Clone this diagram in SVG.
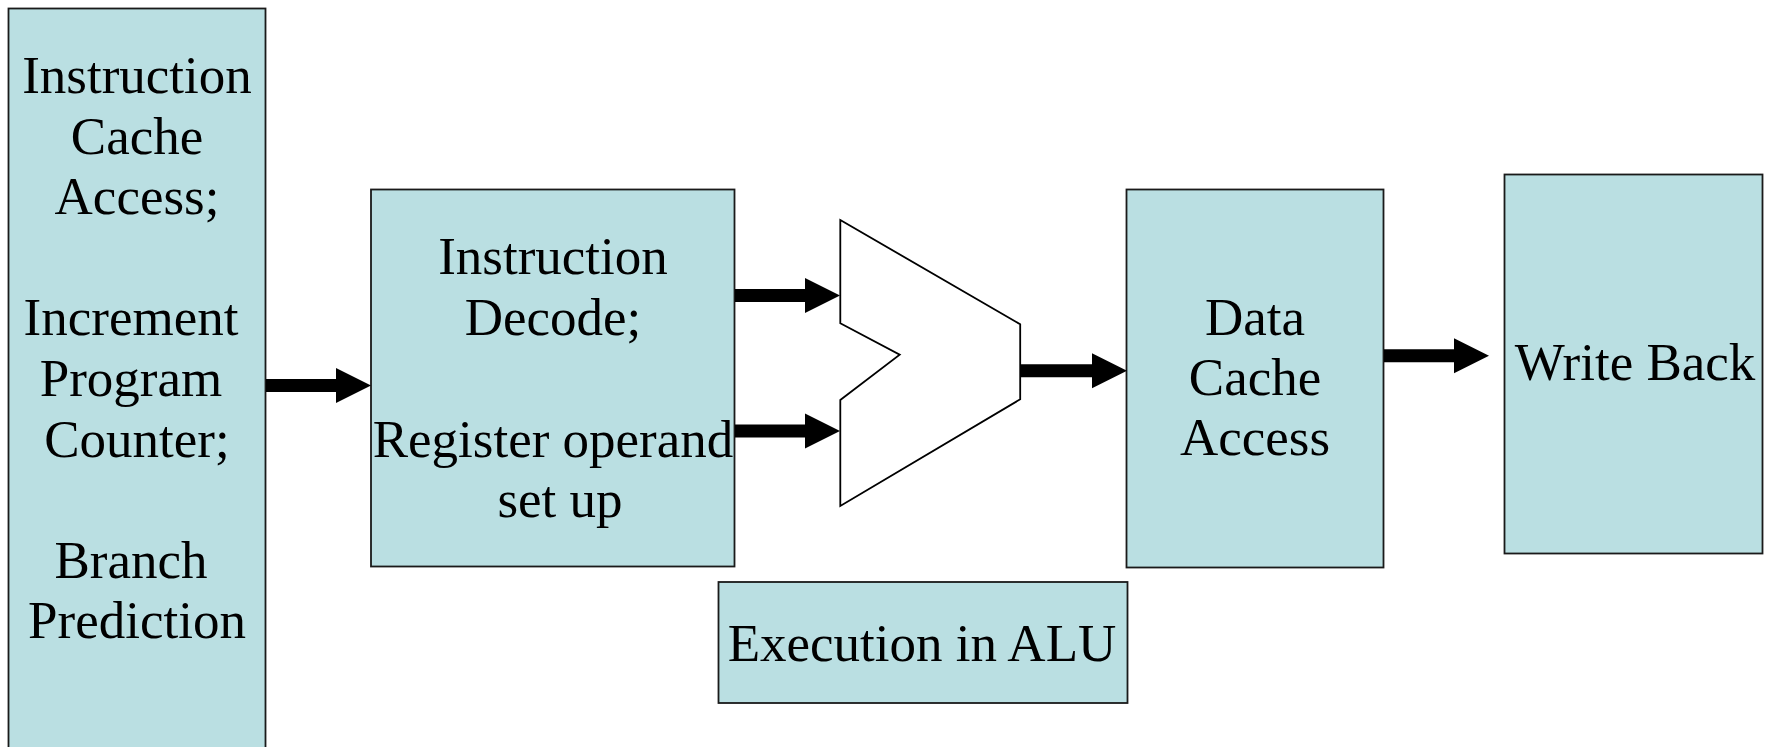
<svg xmlns="http://www.w3.org/2000/svg" width="1771" height="747" viewBox="0 0 1771 747">
  <style>
    .box { fill: #BADFE2; stroke: #1a1a1a; stroke-width: 1.8; }
    .lbl { font-family: "Liberation Serif", "Times New Roman", serif; font-size: 53px; fill: #000; text-anchor: middle; }
    .conn { stroke: #000; stroke-width: 13; fill: none; marker-end: url(#head); }
    .gate { fill: #fff; stroke: #000; stroke-width: 1.8; stroke-linejoin: miter; }
  </style>
  <defs>
    <marker id="head" markerUnits="userSpaceOnUse" markerWidth="36" markerHeight="35" refX="0" refY="17.5" orient="auto" overflow="visible">
      <path d="M0,0 L35,17.5 L0,35 Z" fill="#000"/>
    </marker>
  </defs>
  <rect width="1771" height="747" fill="#fff"/>

  <g id="fetch">
    <rect class="box" x="8.5" y="8.5" width="257" height="750"/>
    <text class="lbl" x="137" y="93">Instruction</text>
    <text class="lbl" x="137" y="154">Cache</text>
    <text class="lbl" x="137" y="214">Access;</text>
    <text class="lbl" x="131" y="335">Increment</text>
    <text class="lbl" x="131" y="396">Program</text>
    <text class="lbl" x="137" y="457">Counter;</text>
    <text class="lbl" x="131" y="578">Branch</text>
    <text class="lbl" x="137" y="638">Prediction</text>
  </g>

  <g id="decode">
    <rect class="box" x="371" y="189.5" width="363.5" height="377"/>
    <text class="lbl" x="553" y="274">Instruction</text>
    <text class="lbl" x="553" y="335">Decode;</text>
    <text class="lbl" x="553" y="457">Register operand</text>
    <text class="lbl" x="560" y="517">set up</text>
  </g>

  <g id="alu">
    <polygon class="gate" points="840.3,220 1020.2,324.3 1020.2,399.3 840.3,506 840.3,400 899.7,354.7 840.3,323.3"/>
  </g>

  <g id="execution">
    <rect class="box" x="718.5" y="582" width="409" height="121"/>
    <text class="lbl" x="922" y="661">Execution in ALU</text>
  </g>

  <g id="datacache">
    <rect class="box" x="1126.5" y="189.5" width="257" height="378"/>
    <text class="lbl" x="1255" y="335">Data</text>
    <text class="lbl" x="1255" y="395">Cache</text>
    <text class="lbl" x="1255" y="455">Access</text>
  </g>

  <g id="writeback">
    <rect class="box" x="1504.5" y="174.5" width="258" height="379"/>
    <text class="lbl" x="1635" y="380">Write Back</text>
  </g>

  <g id="connectors">
    <line class="conn" x1="266" y1="385.5" x2="336" y2="385.5"/>
    <line class="conn" x1="735" y1="295.5" x2="805" y2="295.5"/>
    <line class="conn" x1="735" y1="431" x2="805" y2="431"/>
    <line class="conn" x1="1021" y1="370.8" x2="1092" y2="370.8"/>
    <line class="conn" x1="1384" y1="355.7" x2="1454" y2="355.7"/>
  </g>
</svg>
